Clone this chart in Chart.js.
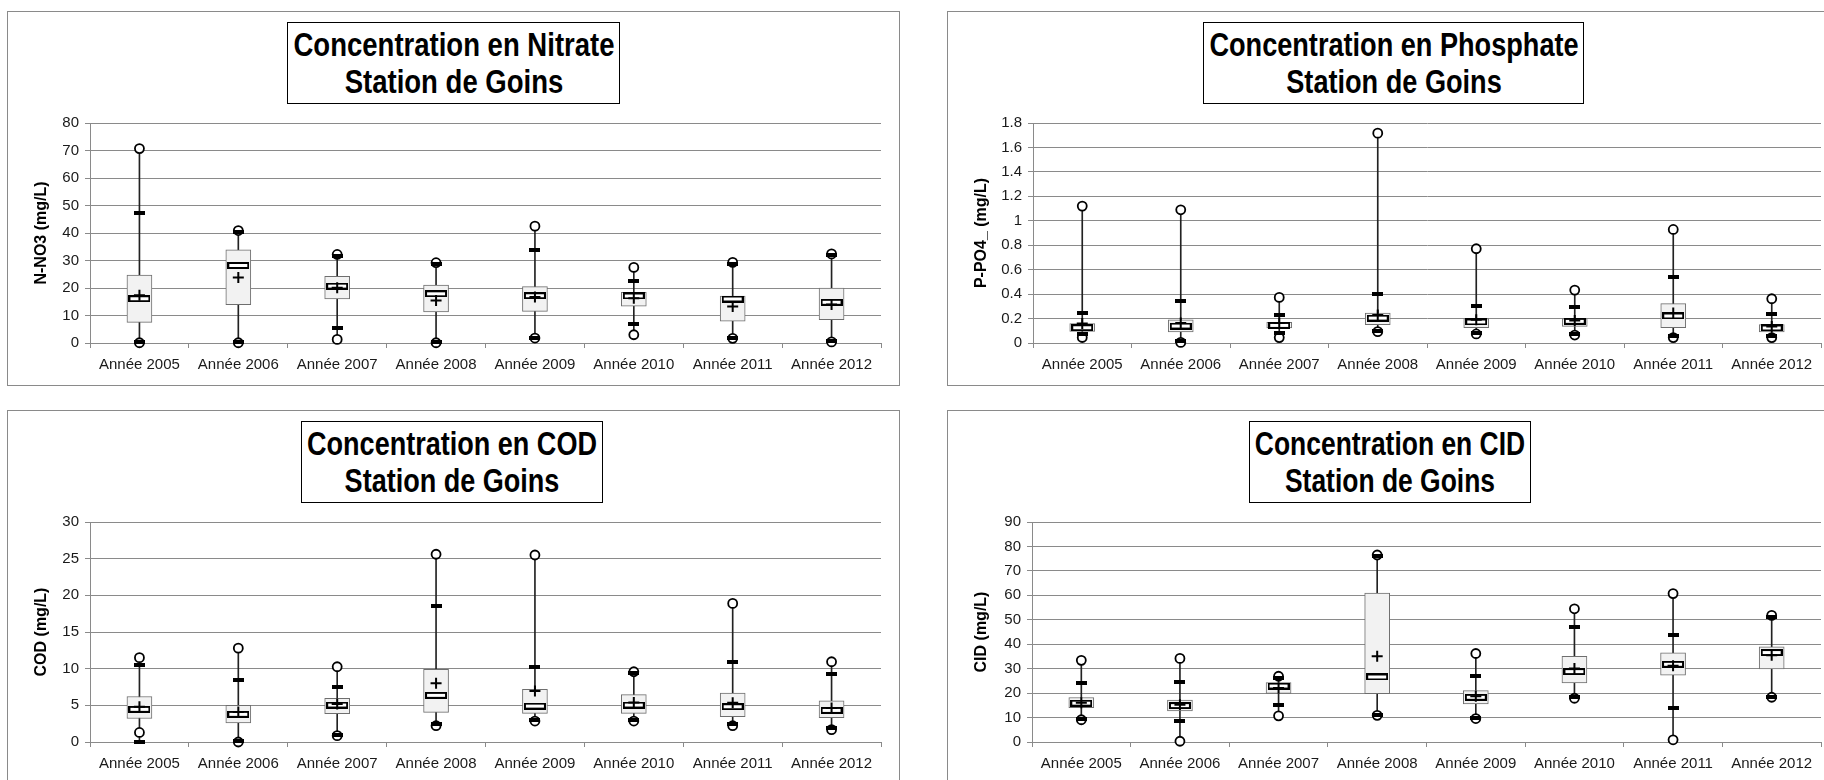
<!DOCTYPE html>
<html>
<head>
<meta charset="utf-8">
<script src="https://cdn.jsdelivr.net/npm/chart.js@4.4.1/dist/chart.umd.min.js"></script>
<style>
body { margin: 0; background: #fff; width: 1824px; height: 780px; overflow: hidden; position: relative; }
.panel { position: absolute; width: 893px; height: 375px; border: 1px solid #8a8a8a; box-sizing: border-box; background: #fff; }
.panel canvas { position: absolute; left: 0; top: 0; }
.titlebox { position: absolute; top: 10px; height: 82px; border: 1.5px solid #000; box-sizing: border-box; background: #fff; z-index: 2; }
.titlebox span { position: absolute; left: 50%; top: 3px; white-space: nowrap; text-align: center;
  font: bold 33px 'Liberation Sans', Arial, sans-serif; line-height: 37px; color: #000;
  transform-origin: 0 0; }
</style>
</head>
<body>

<div class="panel" style="left:7px; top:11px;">
  <canvas id="chartNitrate" width="891" height="373"></canvas>
  <div class="titlebox" style="left:279px; width:333px;"><span>Concentration en Nitrate<br>Station de Goins</span></div>
</div>
<div class="panel" style="left:947px; top:11px;">
  <canvas id="chartPhosphate" width="891" height="373"></canvas>
  <div class="titlebox" style="left:255px; width:381px;"><span>Concentration en Phosphate<br>Station de Goins</span></div>
</div>
<div class="panel" style="left:7px; top:410px;">
  <canvas id="chartCod" width="891" height="373"></canvas>
  <div class="titlebox" style="left:293px; width:302px;"><span>Concentration en COD<br>Station de Goins</span></div>
</div>
<div class="panel" style="left:947px; top:410px;">
  <canvas id="chartCid" width="891" height="373"></canvas>
  <div class="titlebox" style="left:301px; width:282px;"><span>Concentration en CID<br>Station de Goins</span></div>
</div>

<script>
// Catégories
const years = ['Année 2005', 'Année 2006', 'Année 2007', 'Année 2008', 'Année 2009', 'Année 2010', 'Année 2011', 'Année 2012'];

// Nitrate (N-NO3, mg/L)
const no3Min    = [0.1, 0.1, 1.3, 0.1, 1.8, 3.0, 1.7, 0.4];
const no3P10    = [0.3, 0.3, 5.6, 0.3, 2.0, 6.9, 1.9, 0.6];
const no3Q1     = [7.5, 13.9, 16.0, 11.3, 11.5, 13.4, 7.9, 8.5];
const no3Median = [16.1, 28.2, 20.7, 17.9, 17.2, 17.1, 16.0, 14.8];
const no3Q3     = [24.7, 33.9, 24.2, 21.1, 20.5, 18.4, 17.1, 20.0];
const no3P90    = [47.1, 40.5, 31.8, 28.8, 33.9, 22.6, 28.9, 32.0];
const no3Max    = [70.7, 40.9, 32.2, 29.2, 42.5, 27.5, 29.3, 32.4];
const no3Mean   = [17.4, 23.8, 20.1, 15.5, 16.7, 16.3, 13.3, 14.0];

// Phosphate (P-PO4, mg/L)
const po4Min    = [0.045, 0.005, 0.044, 0.093, 0.074, 0.065, 0.044, 0.044];
const po4P10    = [0.075, 0.015, 0.082, 0.1, 0.08, 0.075, 0.055, 0.055];
const po4Q1     = [0.095, 0.09, 0.123, 0.15, 0.125, 0.136, 0.125, 0.09];
const po4Median = [0.125, 0.139, 0.144, 0.204, 0.172, 0.177, 0.221, 0.123];
const po4Q3     = [0.158, 0.19, 0.169, 0.245, 0.199, 0.199, 0.322, 0.15];
const po4P90    = [0.248, 0.343, 0.229, 0.398, 0.305, 0.292, 0.542, 0.24];
const po4Max    = [1.12, 1.09, 0.373, 1.717, 0.771, 0.433, 0.929, 0.362];
const po4Mean   = [0.16, 0.163, 0.163, 0.23, 0.19, 0.185, 0.245, 0.136];

// COD (mg/L)
const codMin    = [1.3, 0.0, 0.86, 2.22, 2.86, 2.86, 2.22, 1.68];
const codP10    = [0.05, 0.2, 1.0, 2.4, 3.0, 3.0, 2.4, 1.85];
const codQ1     = [3.2, 2.59, 3.86, 4.04, 3.9, 3.9, 3.45, 3.31];
const codMedian = [4.45, 3.77, 5.04, 6.36, 4.9, 5.04, 4.81, 4.31];
const codQ3     = [6.2, 5.0, 5.95, 9.9, 7.17, 6.45, 6.67, 5.63];
const codP90    = [10.5, 8.44, 7.44, 18.6, 10.17, 9.4, 10.94, 9.26];
const codMax    = [11.5, 12.8, 10.26, 25.6, 25.5, 9.58, 18.9, 10.94];
const codMean   = [4.8, 4.09, 5.17, 8.0, 6.95, 5.4, 5.36, 4.63];

// CID (mg/L)
const cidMin    = [9.1, 0.3, 10.7, 10.9, 9.6, 17.9, 0.9, 18.3];
const cidP10    = [9.5, 8.7, 15.2, 11.2, 9.9, 18.3, 13.8, 18.6];
const cidQ1     = [14.0, 12.75, 19.9, 19.8, 15.6, 24.2, 27.3, 29.9];
const cidMedian = [15.9, 14.9, 22.9, 26.6, 18.3, 28.8, 31.8, 36.6];
const cidQ3     = [18.2, 17.2, 24.3, 60.9, 21.0, 35.0, 36.5, 38.9];
const cidP90    = [24.0, 24.7, 26.0, 76.0, 27.1, 47.2, 43.8, 51.3];
const cidMax    = [33.4, 34.2, 26.9, 76.5, 36.2, 54.5, 60.7, 51.8];
const cidMean   = [16.1, 15.2, 22.1, 35.1, 18.7, 30.1, 31.2, 35.5];

// Titres : police étroite simulée (largeur ajustée à la boîte)
document.querySelectorAll('.titlebox span').forEach(function(span) {
    const box = span.parentElement;
    const target = box.clientWidth - 10;
    const k = target / span.offsetWidth;
    span.style.transform = 'scaleX(' + k + ') translateX(-50%)';
});

// Marqueurs (médiane = rectangle blanc bordé de noir, percentile = tiret noir)
const medianMark = document.createElement('canvas');
medianMark.width = 22; medianMark.height = 7;
(function() {
    const c = medianMark.getContext('2d');
    c.fillStyle = '#fff';
    c.fillRect(0, 0, 22, 7);
    c.strokeStyle = '#000';
    c.lineWidth = 2;
    c.strokeRect(1, 1, 20, 5);
})();

const dashMark = document.createElement('canvas');
dashMark.width = 11; dashMark.height = 4;
(function() {
    const c = dashMark.getContext('2d');
    c.fillStyle = '#000';
    c.fillRect(0, 0, 11, 4);
})();

Chart.defaults.font.family = "'Liberation Sans', Arial, sans-serif";

const gridGray = '#8a8a8a';

function pointSet(data, style, extra, order) {
    return Object.assign({
        type: 'line', data: data, showLine: false, pointStyle: style,
        clip: false, order: order, pointHoverRadius: 0
    }, extra);
}

function boxChart(id, s, yMax, yStep, yTitle, yWidth) {
    const whisker = s.min.map((v, i) => [Math.min(v, s.p10[i]), Math.max(s.max[i], s.p90[i])]);
    const box = s.q1.map((v, i) => [v, s.q3[i]]);

    new Chart(document.getElementById(id), {
        type: 'bar',
        data: {
            labels: years,
            datasets: [
                pointSet(s.mean, 'cross', { pointRadius: 5.5, borderColor: '#000', borderWidth: 2 }, 0),
                pointSet(s.p10, dashMark, { pointRadius: 3 }, 1),
                pointSet(s.p90, dashMark, { pointRadius: 3 }, 1),
                pointSet(s.min, 'circle', { pointRadius: 4.5, backgroundColor: '#fff', borderColor: '#000', borderWidth: 1.8 }, 2),
                pointSet(s.max, 'circle', { pointRadius: 4.5, backgroundColor: '#fff', borderColor: '#000', borderWidth: 1.8 }, 2),
                pointSet(s.median, medianMark, { pointRadius: 3 }, 3),
                {
                    data: box, backgroundColor: '#f2f2f2', borderColor: '#6e6e6e', borderWidth: 1,
                    borderSkipped: false, barThickness: 25, grouped: false, order: 4
                },
                {
                    data: whisker, backgroundColor: '#222', borderWidth: 0,
                    barThickness: 1, grouped: false, order: 5
                }
            ]
        },
        options: {
            responsive: false,
            animation: false,
            layout: { padding: { top: 111, right: 18, left: 0, bottom: 0 } },
            plugins: { legend: { display: false }, tooltip: { enabled: false } },
            scales: {
                x: {
                    grid: { offset: true, drawOnChartArea: false, tickLength: 5, color: gridGray },
                    border: { color: gridGray },
                    ticks: { font: { size: 15 }, color: '#1a1a1a', padding: 8, maxRotation: 0, autoSkip: false },
                    afterFit: function(scale) { scale.height = 42; }
                },
                y: {
                    min: 0,
                    max: yMax,
                    ticks: {
                        stepSize: yStep, font: { size: 15 }, color: '#1a1a1a', padding: 6,
                        callback: function(v) { return String(+v.toFixed(2)); }
                    },
                    grid: { color: gridGray, tickLength: 5 },
                    border: { color: gridGray },
                    title: {
                        display: true, text: yTitle, color: '#000',
                        font: { size: 16, weight: 'bold' },
                        padding: { top: 24, bottom: 0 }
                    },
                    afterFit: function(scale) { scale.width = yWidth; }
                }
            }
        }
    });
}

boxChart('chartNitrate', { min: no3Min, p10: no3P10, q1: no3Q1, median: no3Median, q3: no3Q3, p90: no3P90, max: no3Max, mean: no3Mean },
    80, 10, 'N-NO3 (mg/L)', 82);
boxChart('chartPhosphate', { min: po4Min, p10: po4P10, q1: po4Q1, median: po4Median, q3: po4Q3, p90: po4P90, max: po4Max, mean: po4Mean },
    1.8, 0.2, 'P-PO4_ (mg/L)', 85);
boxChart('chartCod', { min: codMin, p10: codP10, q1: codQ1, median: codMedian, q3: codQ3, p90: codP90, max: codMax, mean: codMean },
    30, 5, 'COD (mg/L)', 82);
boxChart('chartCid', { min: cidMin, p10: cidP10, q1: cidQ1, median: cidMedian, q3: cidQ3, p90: cidP90, max: cidMax, mean: cidMean },
    90, 10, 'CID (mg/L)', 84);
</script>
</body>
</html>
